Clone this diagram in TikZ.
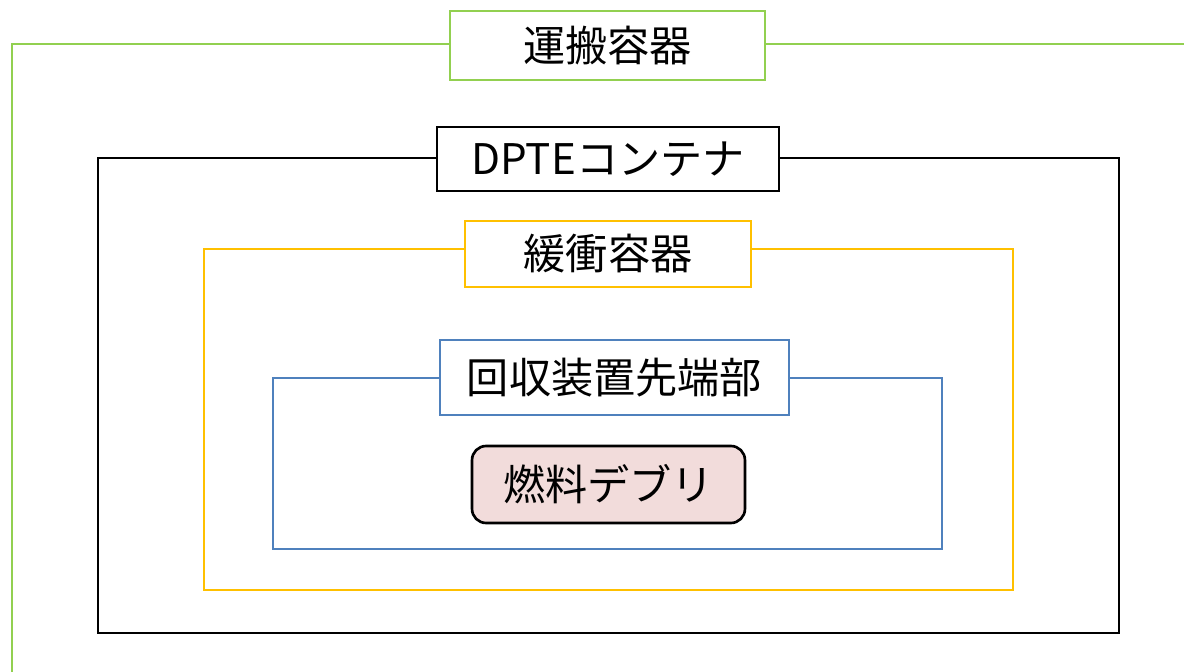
\documentclass[tikz,border=0pt]{standalone}
\usepackage{fontspec}
\setmainfont{Noto Sans CJK JP}
\definecolor{frgreen}{HTML}{92D050}
\definecolor{frorange}{HTML}{FFC000}
\definecolor{frblue}{HTML}{4F81BD}
\definecolor{debrisfill}{HTML}{F2DCDB}
\tikzset{
  frame/.style={line width=1.5pt},
  tag/.style={draw, fill=white, line width=1.5pt, inner sep=0pt,
    font=\fontsize{24}{28}\selectfont}
}
\begin{document}
\begin{tikzpicture}[x=0.02cm,y=-0.02cm]
\useasboundingbox (0,0) rectangle (1184,672);
% transport container
\node[tag, draw=frgreen, minimum width=6.3cm, minimum height=1.38cm] (carrier) at (607.5,45.5) {運搬容器};
\draw[frame, frgreen] (carrier.west |- 0,44) -- (12,44) -- (12,690);
\draw[frame, frgreen] (carrier.east |- 0,44) -- (1200,44);
% DPTE container
\draw[frame] (437,158) -- (98,158) -- (98,633) -- (1119,633) -- (1119,158) -- (779,158);
\node[tag, minimum width=6.84cm, minimum height=1.28cm] (dpte) at (608,159) {DPTEコンテナ};
% buffer container
\draw[frame, frorange] (465,249) -- (204,249) -- (204,590) -- (1013,590) -- (1013,249) -- (751,249);
\node[tag, draw=frorange, minimum width=5.72cm, minimum height=1.32cm] (buffer) at (608,254) {緩衝容器};
% recovery device tip
\draw[frame, frblue] (440,378) -- (273,378) -- (273,549) -- (942,549) -- (942,378) -- (789,378);
\node[tag, draw=frblue, minimum width=6.98cm, minimum height=1.5cm] (tip) at (614.5,377.5) {回収装置先端部};
% fuel debris
\node[tag, fill=debrisfill, rounded corners=8pt, minimum width=5.46cm, minimum height=1.54cm] (debris) at (608.5,484.5) {燃料デブリ};
\end{tikzpicture}
\end{document}
